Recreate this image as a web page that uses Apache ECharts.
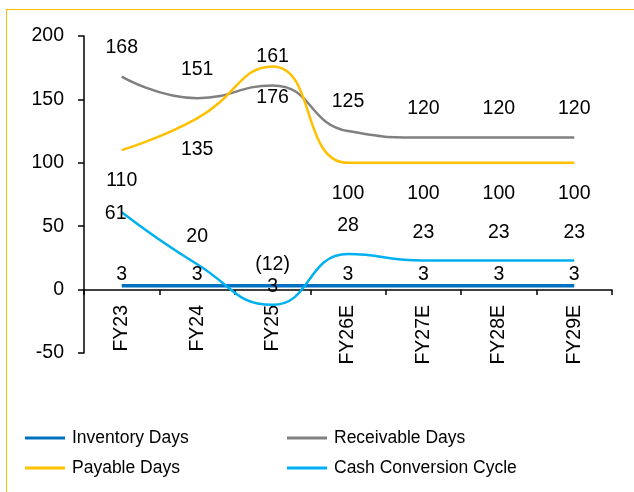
<!DOCTYPE html>
<html>
<head>
<meta charset="utf-8">
<script src="https://cdn.jsdelivr.net/npm/echarts@6/dist/echarts.min.js"></script>
<style>
  html, body { margin: 0; padding: 0; background: #fff; }
  #frame { position: absolute; left: 6px; top: 9px; width: 700px; height: 600px;
           border-left: 1px solid #FFC000; border-top: 1px solid #FFC000; }
  #chart { position: absolute; left: 0; top: 0; width: 634px; height: 492px; }
</style>
</head>
<body>
<div id="frame"></div>
<div id="chart"></div>
<script>
// Working-capital days by fiscal year
const years = ['FY23', 'FY24', 'FY25', 'FY26E', 'FY27E', 'FY28E', 'FY29E'];
const inventoryDays = [3, 3, 3, 3, 3, 3, 3];
const receivableDays = [168, 151, 161, 125, 120, 120, 120];
const payableDays = [110, 135, 176, 100, 100, 100, 100];
const cashConversionCycle = [61, 20, -12, 28, 23, 23, 23];
const yTicks = [-50, 0, 50, 100, 150, 200];

const COLORS = {
  'Inventory Days': '#0070C0',
  'Receivable Days': '#808080',
  'Payable Days': '#FFC000',
  'Cash Conversion Cycle': '#00B0F0'
};

const FONT = 'Liberation Sans, Arial, sans-serif';
const LABEL_SIZE = 19.5;

function fmt(v) { return v < 0 ? '(' + Math.abs(v) + ')' : String(v); }

// Per-point label placement
function withLabels(values, place) {
  return values.map((v, i) => ({ value: v, label: place(i) }));
}

const baseLabel = {
  show: true, color: '#000', fontFamily: FONT, fontSize: LABEL_SIZE,
  formatter: p => fmt(p.value)
};

// Markers stay invisible; only the smoothed line and value labels are drawn
function lineSeries(name, width, label, data) {
  return {
    name, type: 'line', smooth: 0.5,
    symbol: 'circle', symbolSize: 2, showSymbol: true,
    itemStyle: { color: 'rgba(0,0,0,0)', borderWidth: 0 },
    lineStyle: { width, color: COLORS[name] },
    emphasis: { disabled: true },
    label, data
  };
}

function legendItems(names) {
  return names.map(n => ({ name: n, itemStyle: { color: COLORS[n] } }));
}

// Zero line sits 63px above the bottom of the plot area
const ZERO_OFFSET = -63;

const legendText = { color: '#000', fontFamily: FONT, fontSize: 17.5, lineHeight: 20, padding: [0, 0, 0, 2] };

const chart = echarts.init(document.getElementById('chart'), null, { renderer: 'canvas' });

chart.setOption({
  animation: false,
  backgroundColor: 'transparent',
  grid: { left: 84, right: 22, top: 36, bottom: 139, containLabel: false },
  xAxis: {
    type: 'category',
    data: years,
    boundaryGap: true,
    position: 'bottom',
    offset: ZERO_OFFSET,
    axisLine: { onZero: false, lineStyle: { color: '#000', width: 1.5 } },
    axisTick: { show: true, interval: 0, length: 5, lineStyle: { color: '#000', width: 1.5 } },
    axisLabel: { interval: 0, rotate: 90, margin: 15, color: '#000', fontFamily: FONT, fontSize: LABEL_SIZE },
    splitLine: { show: false }
  },
  yAxis: {
    type: 'value',
    min: yTicks[0],
    max: yTicks[yTicks.length - 1],
    interval: 50,
    axisLine: { show: true, lineStyle: { color: '#000', width: 1.5 } },
    axisTick: { show: true, length: 6, lineStyle: { color: '#000', width: 1.5 } },
    axisLabel: { margin: 20, color: '#000', fontFamily: FONT, fontSize: LABEL_SIZE, formatter: v => String(v) },
    splitLine: { show: false }
  },
  legend: [
    {
      left: 25, top: 428, orient: 'vertical', itemGap: 10, padding: 0,
      itemWidth: 40, itemHeight: 3, icon: 'rect',
      textStyle: legendText,
      data: legendItems(['Inventory Days', 'Payable Days'])
    },
    {
      left: 287, top: 428, orient: 'vertical', itemGap: 10, padding: 0,
      itemWidth: 40, itemHeight: 3, icon: 'rect',
      textStyle: legendText,
      data: legendItems(['Receivable Days', 'Cash Conversion Cycle'])
    }
  ],
  series: [
    lineSeries('Inventory Days', 3.5, baseLabel,
      withLabels(inventoryDays, i => (i === 2
        ? { position: 'inside', offset: [0, 1] }
        : { position: 'top', distance: 0 }))),
    lineSeries('Receivable Days', 2.5,
      Object.assign({}, baseLabel, { position: 'top', distance: 18 }),
      receivableDays),
    lineSeries('Payable Days', 2.5,
      Object.assign({}, baseLabel, { position: 'bottom', distance: 20 }),
      payableDays),
    lineSeries('Cash Conversion Cycle', 2.5, baseLabel,
      withLabels(cashConversionCycle, i => {
        if (i === 0) return { position: 'inside', offset: [-6, 1] };
        if (i === 2) return { position: 'top', distance: 29 };
        return { position: 'top', distance: 17 };
      }))
  ]
});
</script>
</body>
</html>
